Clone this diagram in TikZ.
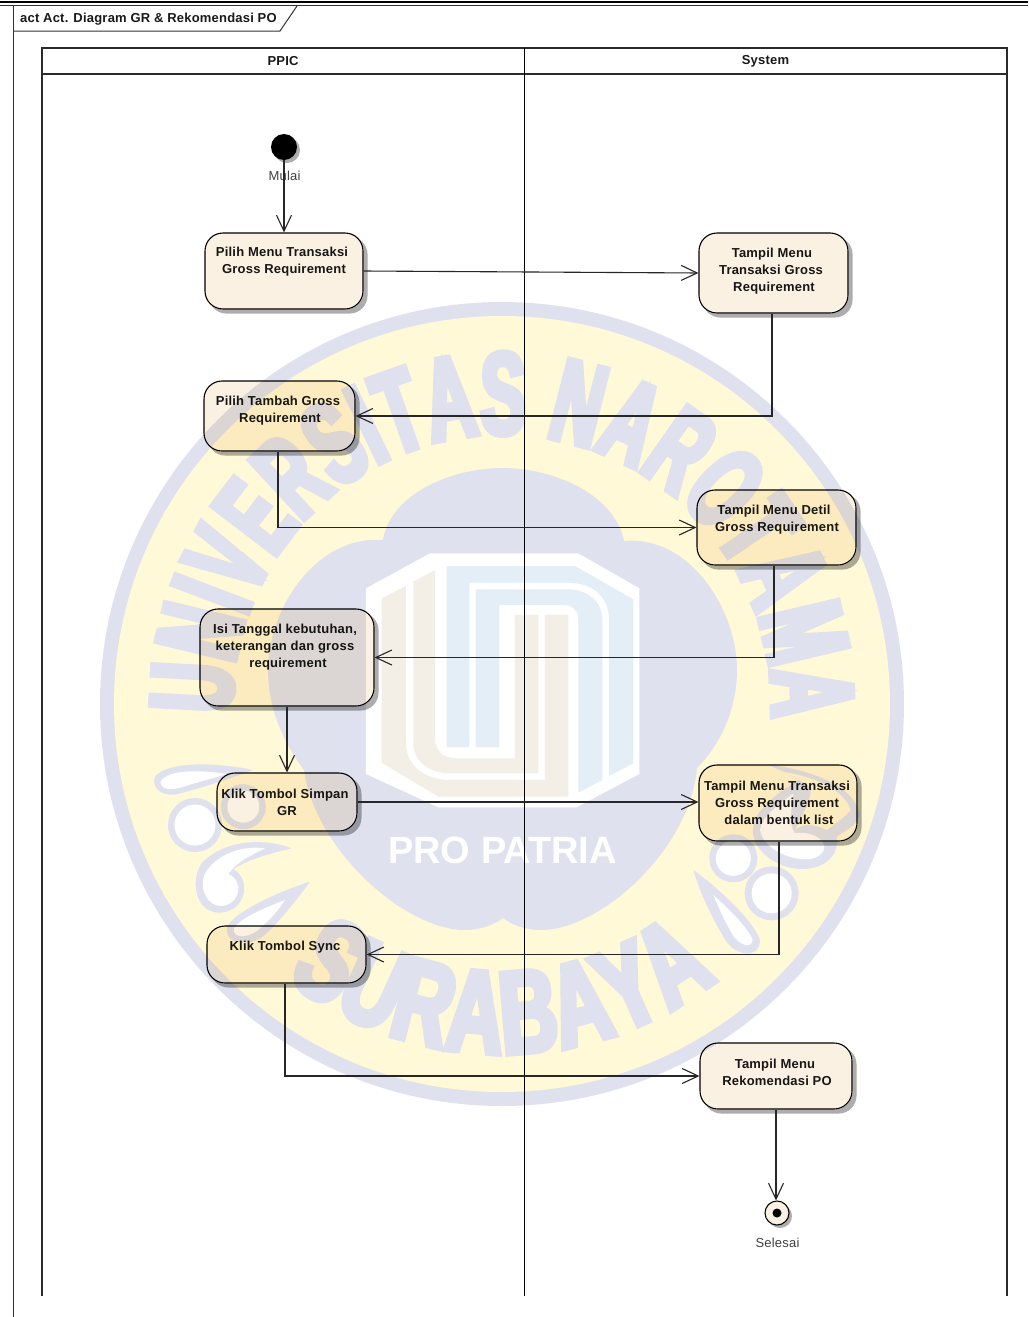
\documentclass[tikz,border=0pt]{standalone}
\usepackage{fontspec}
\setmainfont{Liberation Sans}[LetterSpace=1.6]
\newfontfamily\wmA{Liberation Sans}[FakeStretch=0.57,FakeBold=5]
\newfontfamily\wmB{Liberation Sans}[FakeStretch=0.68,FakeBold=5]
\newfontfamily\wmC{Liberation Sans}
\usetikzlibrary{arrows.meta,decorations.text,calc}
\definecolor{wmyellow}{HTML}{FFF9D7}
\definecolor{wmblue}{HTML}{DFE2EE}
\definecolor{wmtan}{HTML}{F4EFE6}
\definecolor{wmsky}{HTML}{E3EEF6}
\definecolor{boxfill}{HTML}{FBF1E3}
\definecolor{lanecol}{HTML}{2A2A2A}
\definecolor{shadowcol}{HTML}{ADADAD}
\newcommand{\jog}[1]{\hspace*{\dimexpr 2\dimexpr #1pt\relax\relax}}
\newcommand{\boxshadow}[1]{%
  \begin{scope}[even odd rule,rounded corners=18pt]
  \clip (-10,-1330) rectangle (1040,10) (#1.south west) rectangle (#1.north east);
  \fill[shadowcol] ([shift={(4pt,-4pt)}]#1.south west) rectangle ([shift={(4pt,-4pt)}]#1.north east);
  \end{scope}}
\tikzset{
  actbox/.style={draw=black,line width=1.1pt,fill=boxfill,rounded corners=18pt,inner sep=0pt,align=center,
    font=\bfseries\fontsize{13}{17}\selectfont,text=black!90},
  flow/.style={line width=1.1pt,draw=black!85,-{Straight Barb[length=16pt,width=15pt,line width=1.1pt]}},
  lane/.style={line width=1.8pt,draw=lanecol},
  lanehead/.style={font=\bfseries\fontsize{13}{15}\selectfont,text=black!90,inner sep=0pt},
  caption/.style={font=\fontsize{13}{15}\selectfont,text=black!75,inner sep=0pt},
  wmdrop/.style={fill=wmblue},
  wmhole/.style={fill=white},
}
\begin{document}
\begin{tikzpicture}[x=1pt,y=1pt]
\useasboundingbox (0,-1317) rectangle (1028,0);
\fill[white] (0,-1317) rectangle (1028,0);
% ---- watermark
\coordinate (wmc) at (502,-704);
\fill[wmblue] (wmc) circle[radius=402pt];
\fill[wmyellow] (wmc) circle[radius=388pt];
% left ornaments (reference zoom coordinates)
\begin{scope}[shift={(130,-750)},x=0.3333pt,y=-0.3333pt]
  \fill[wmdrop] (370,60) .. controls (250,35) and (110,35) .. (75,80) .. controls (60,120) and (110,145) .. (150,130) .. controls (230,110) and (300,85) .. (370,60) -- cycle;
  \fill[wmhole] (290,72) .. controls (200,58) and (110,60) .. (92,95) .. controls (90,120) and (125,122) .. (160,110) .. controls (200,97) and (250,85) .. (290,72) -- cycle;
  \fill[wmblue] (195,225) circle[radius=27pt];
  \fill[white] (195,225) circle[radius=20.5pt];
  \fill[wmblue] (340,170) circle[radius=22.5pt];
  \fill[white] (340,170) circle[radius=16pt];
  \fill[wmdrop] (485,295) .. controls (400,262) and (280,270) .. (215,340) .. controls (180,390) and (195,490) .. (270,488) .. controls (350,485) and (365,385) .. (310,358) .. controls (350,330) and (420,310) .. (485,295) -- cycle;
  \fill[wmhole] (405,295) .. controls (330,285) and (260,315) .. (225,370) .. controls (205,420) and (235,468) .. (272,468) .. controls (330,465) and (345,395) .. (295,372) .. controls (320,335) and (365,315) .. (405,295) -- cycle;
  \fill[wmdrop] (540,395) .. controls (430,430) and (310,490) .. (292,530) .. controls (280,590) and (370,590) .. (410,550) .. controls (460,500) and (500,450) .. (540,395) -- cycle;
  \fill[wmhole] (465,450) .. controls (400,475) and (330,505) .. (312,535) .. controls (305,570) and (365,565) .. (395,530) .. controls (425,505) and (445,480) .. (465,450) -- cycle;
\end{scope}
% right ornaments
\begin{scope}[shift={(680,-730)},x=0.3333pt,y=-0.3333pt]
  \fill[wmblue] (160,385) circle[radius=24pt];
  \fill[white] (160,385) circle[radius=17.5pt];
  \fill[wmblue] (275,490) circle[radius=27pt];
  \fill[white] (275,490) circle[radius=20pt];
  \fill[wmdrop] (40,420) .. controls (110,470) and (220,570) .. (240,630) .. controls (240,690) and (160,680) .. (130,620) .. controls (95,560) and (60,490) .. (40,420) -- cycle;
  \fill[wmhole] (100,495) .. controls (150,540) and (205,595) .. (218,630) .. controls (215,660) and (170,645) .. (150,600) .. controls (130,565) and (115,530) .. (100,495) -- cycle;
  \fill[wmdrop] (265,105) .. controls (370,115) and (520,160) .. (538,250) .. controls (540,280) and (500,300) .. (470,320) .. controls (480,400) and (400,425) .. (340,415) .. controls (260,400) and (210,340) .. (220,290) .. controls (225,240) and (290,190) .. (355,150) .. controls (320,130) and (290,115) .. (265,105) -- cycle;
  \fill[wmyellow] (305,125) .. controls (380,135) and (490,170) .. (512,240) .. controls (500,255) and (470,280) .. (440,300) .. controls (400,280) and (370,280) .. (345,300) .. controls (370,250) and (400,200) .. (390,170) .. controls (360,150) and (330,135) .. (305,125) -- cycle;
  \fill[wmhole] (345,310) .. controls (400,300) and (460,340) .. (420,375) .. controls (380,410) and (250,370) .. (240,300) .. controls (245,260) and (300,220) .. (340,190) .. controls (335,240) and (325,280) .. (345,310) -- cycle;
\end{scope}
% cloud
\fill[wmblue] (383,-540) .. controls (390,-495) and (450,-468) .. (502,-468)
  .. controls (555,-468) and (615,-495) .. (624,-541)
  .. controls (690,-535) and (737,-610) .. (737,-670)
  .. controls (737,-710) and (720,-745) .. (697,-768)
  .. controls (690,-850) and (600,-930) .. (541,-930)
  .. controls (526,-930) and (512,-925) .. (503,-918)
  .. controls (494,-925) and (480,-930) .. (465,-930)
  .. controls (405,-930) and (315,-850) .. (304,-770)
  .. controls (285,-745) and (268,-710) .. (268,-670)
  .. controls (268,-610) and (315,-535) .. (383,-540) -- cycle;
% logo
\begin{scope}[shift={(300,-520)},x=0.3333pt,y=-0.3333pt]
  \fill[white] (198,205) -- (390,100) -- (835,100) -- (1018,205) -- (1018,762) -- (830,862) -- (415,862) -- (198,762) -- cycle;
  \fill[wmtan] (245,235) -- (318,198) -- (318,670) .. controls (318,740) and (380,780) .. (450,780) -- (735,780) -- (735,285) -- (805,285) -- (805,830) -- (415,830) -- (245,728) -- cycle;
  \fill[wmtan] (340,185) -- (405,150) -- (405,650) .. controls (405,695) and (430,715) .. (470,715) -- (645,715) -- (645,285) -- (715,285) -- (715,760) -- (450,760) .. controls (390,760) and (340,725) .. (340,670) -- cycle;
  \fill[wmsky] (440,138) -- (825,138) -- (1000,238) -- (1000,730) -- (927,768) -- (927,300) .. controls (927,230) and (880,188) .. (800,188) -- (508,188) -- (508,682) -- (440,682) -- cycle;
  \fill[wmsky] (527,208) -- (800,208) .. controls (865,208) and (907,245) .. (907,300) -- (907,780) -- (835,818) -- (835,295) .. controls (835,270) and (815,255) .. (790,255) -- (598,255) -- (598,682) -- (527,682) -- cycle;
\end{scope}
\node[text=white,font=\wmC\bfseries\fontsize{38}{41}\selectfont,inner sep=0pt] (propatria) at (502.5,-850) {PRO PATRIA};
\path[decorate,decoration={text along path,text align={fit to path},
   text={|\wmA\bfseries\fontsize{117}{117}\selectfont\color{wmblue}|UNIVERSITAS NAROTAMA}}]
   (wmc) ++(182:270) arc[start angle=182,end angle=-3,radius=270pt];
\path[decorate,decoration={text along path,text align={fit to path},
   text={|\wmB\bfseries\fontsize{117}{117}\selectfont\color{wmblue}|SURABAYA}}]
   (wmc) ++(232:349) arc[start angle=232,end angle=308,radius=349pt];
% ---- diagram frame
\draw[line width=1.8pt,black] (0,-1.8) -- (1028,-1.8);
\draw[line width=1pt,black!80] (0,-5.5) -- (1028,-5.5);
\draw[line width=1pt,black!80] (13.5,-5.5) -- (13.5,-1317);
\draw[line width=1pt,black!80] (13.5,-31) -- (280,-31) -- (297,-6);
\node[lanehead,anchor=west] (title) at (20,-19) {act Act. Diagram GR \& Rekomendasi PO};
% lanes
\coordinate (la) at (42,-1296); \coordinate (lb) at (524.5,-1296); \coordinate (lc) at (1007,-1296);
\draw[lane] (la) -- (42,-48) -- (1007,-48) -- (lc);
\draw[lane] (42,-74) -- (1007,-74);
\draw[lane,black] (524.5,-48) -- (lb);
\node[lanehead] (ppic) at (283,-61) {PPIC};
\node[lanehead] (system) at (765.5,-61) {System};
% ---- activities
\begin{scope}[blend mode=multiply]
\node[actbox,minimum width=158pt,minimum height=76pt] (a1) at (284,-271) {\jog{-2}Pilih Menu Transaksi\\Gross Requirement\\[4pt]~};
\node[actbox,minimum width=149pt,minimum height=80pt] (b1) at (773.5,-273) {\jog{-1.5}Tampil Menu\\\jog{-2.5}Transaksi Gross\\\jog{0.5}Requirement\\[-11pt]~};
\node[actbox,minimum width=151pt,minimum height=70pt] (a2) at (279.5,-416) {\jog{-1.5}Pilih Tambah Gross\\\jog{0.5}Requirement\\[-4pt]~};
\node[actbox,minimum width=159pt,minimum height=75pt] (b2) at (776.5,-527.5) {\jog{-2.5}Tampil Menu Detil\\\jog{0.5}Gross Requirement\\[1pt]~};
\node[actbox,minimum width=174pt,minimum height=97pt] (a3) at (287,-657.5) {\jog{-2}Isi Tanggal kebutuhan,\\\jog{-2}keterangan dan gross\\\jog{1}requirement\\[6pt]~};
\node[actbox,minimum width=140pt,minimum height=58pt] (a4) at (287,-802) {\jog{-2}Klik Tombol Simpan\\GR};
\node[actbox,minimum width=158pt,minimum height=76pt] (b3) at (778,-803) {\jog{-1}Tampil Menu Transaksi\\\jog{-1}Gross Requirement\\\jog{1}dalam bentuk list};
\node[actbox,minimum width=159pt,minimum height=57pt] (a5) at (286.5,-954.5) {\jog{-1.5}Klik Tombol Sync\\[0pt]~};
\node[actbox,minimum width=152pt,minimum height=66pt] (b4) at (776,-1076) {\jog{-1}Tampil Menu\\\jog{1}Rekomendasi PO\\[-10pt]~};
\node[circle,draw=black,line width=1.1pt,fill=boxfill,minimum size=24pt,inner sep=0pt] (endn) at (777,-1213) {};
\foreach \n in {a1,a2,a3,a4,a5,b1,b2,b3,b4}{\boxshadow{\n}}
\begin{scope}[even odd rule]
  \clip (-10,-1330) rectangle (1040,10) (endn) circle[radius=12pt];
  \fill[shadowcol] ([shift={(3pt,-3pt)}]endn.center) circle[radius=12pt];
\end{scope}
\fill[shadowcol] (287,-150) circle[radius=13pt];
\end{scope}
\node[circle,fill=black,minimum size=26pt,inner sep=0pt] (start) at (284,-147) {};
\node[circle,fill=black,minimum size=9pt,inner sep=0pt] (enddot) at (endn.center) {};
\node[caption] (mulai) at (284.5,-175.5) {Mulai};
\node[caption] (selesai) at (777.5,-1242.5) {Selesai};
% ---- connectors
\draw[flow] (start.south) -- (a1.north);
\draw[flow] (a1.east) -- (b1.west);
\draw[flow] ([xshift=-1.5pt]b1.south) |- (a2.east);
\draw[flow] ([xshift=-1.5pt]a2.south) |- (b2.west);
\draw[flow] ([xshift=-2.5pt]b2.south) |- (a3.east);
\draw[flow] (a3.south) -- (a4.north);
\draw[flow] (a4.east) -- (a4.east -| b3.west);
\draw[flow] ([xshift=1pt]b3.south) |- (a5.east);
\draw[flow] ([xshift=-1.5pt]a5.south) |- (b4.west);
\draw[flow] (b4.south) -- (b4.south |- endn.north);
\end{tikzpicture}
\end{document}
